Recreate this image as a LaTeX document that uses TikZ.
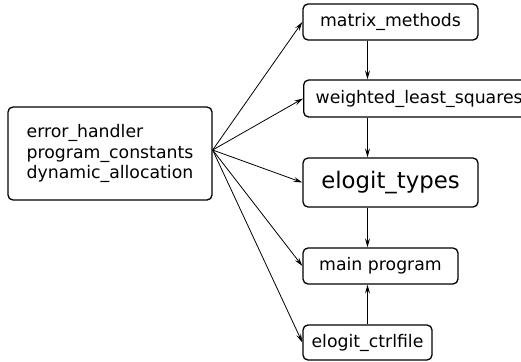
\documentclass[tikz,border=0pt]{standalone}
\usepackage{fontspec}
\setmainfont{DejaVu Sans}
\usetikzlibrary{arrows.meta,calc}
\begin{document}
\begin{tikzpicture}[x=1pt,y=-1pt,
  box/.style={draw, rounded corners=5pt, line width=1.3pt, inner sep=0pt,
    font=\fontsize{17.3}{20.7}\selectfont},
  conn/.style={line width=0.8pt, -{Stealth[length=9pt,width=5pt,inset=3.5pt]}}]
\useasboundingbox (0,0) rectangle (521,361);
\clip (0,0) rectangle (521,361);
\node[box, minimum width=232pt, minimum height=37pt, anchor=west, text width=226pt, align=left, inner xsep=0pt]
  (wls) at (303,98.5) {\hspace*{9pt}weighted\_least\_squares};
\node[box, minimum width=204pt, minimum height=93pt, align=left] (left) at (110,153.5)
  {error\_handler\\program\_constants\\dynamic\_allocation};
\node[box, minimum width=175pt, minimum height=36pt] (mm) at (390.5,22) {matrix\_methods};
\node[box, minimum width=175pt, minimum height=49pt, font=\fontsize{22.8}{26}\selectfont] (types) at (390.5,182.5) {elogit\_types};
\node[box, minimum width=155pt, minimum height=36pt] (main) at (380.5,266) {main program};
\node[box, minimum width=129pt, minimum height=35pt] (ctrl) at (367.5,342.5) {elogit\_ctrlfile};
\coordinate (src) at ($(left.east)+(0,-3.5)$);
\foreach \t in {mm,wls,types,main,ctrl}
  \draw[conn] (src) -- (\t.west);
\draw[conn] (mm.south -| ctrl.north) -- (wls.north -| ctrl.north);
\draw[conn] (wls.south -| ctrl.north) -- (types.north -| ctrl.north);
\draw[conn] (types.south -| ctrl.north) -- (main.north -| ctrl.north);
\draw[conn] (ctrl.north) -- (main.south -| ctrl.north);
\end{tikzpicture}
\end{document}
